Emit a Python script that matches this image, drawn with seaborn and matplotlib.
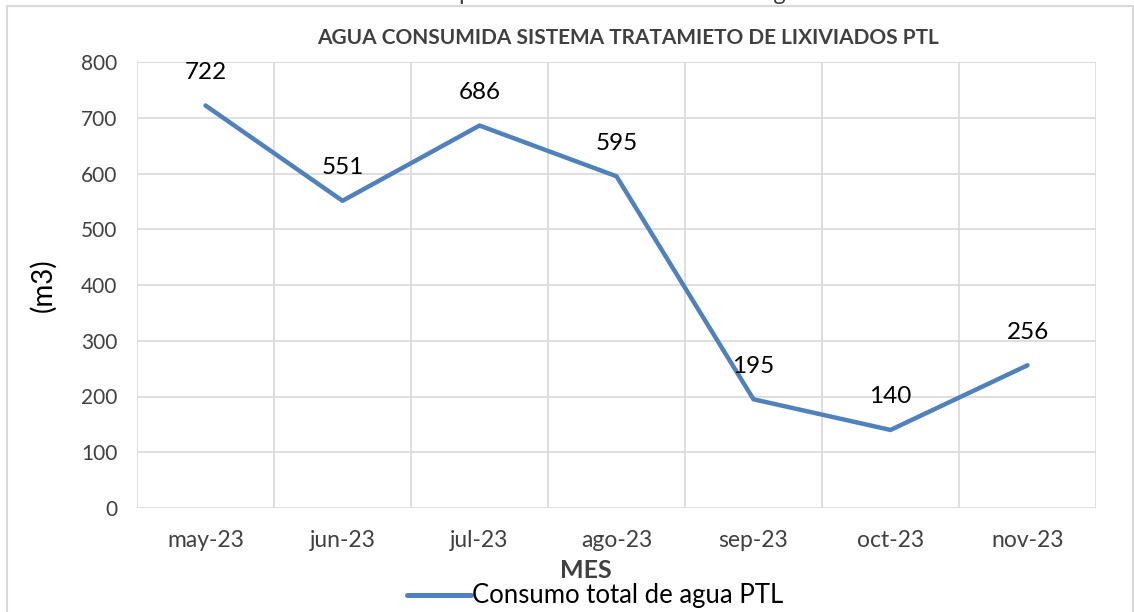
import numpy as np
import pandas as pd
import matplotlib
matplotlib.use("Agg")
import matplotlib.pyplot as plt
import matplotlib.patches as patches
from matplotlib.lines import Line2D
import seaborn as sns

# data
meses = ["may-23", "jun-23", "jul-23", "ago-23", "sep-23", "oct-23", "nov-23"]
consumo = [722, 551, 686, 595, 195, 140, 256]
serie = "Consumo total de agua PTL"

sns.set_theme(style="white")
plt.rcParams['font.family'] = ['Lato', 'DejaVu Sans']

df = pd.DataFrame({"mes": meses, "consumo": consumo})

fig = plt.figure(figsize=(11.34, 6.12), dpi=100)
ax = fig.add_axes([137 / 1134, 1 - 508 / 612, (1096 - 137) / 1134, (508 - 62) / 612])

# outer chart frame
fig.patches.append(patches.Rectangle((7 / 1134, -0.05), (1133 - 7) / 1134, 1.05 - 6 / 612,
                                     transform=fig.transFigure, fill=False,
                                     edgecolor='#d9d9d9', linewidth=1.5, zorder=0))

line_col = '#4f81bd'
sns.lineplot(data=df, x="mes", y="consumo", color=line_col, linewidth=3.2,
             ax=ax, legend=False, sort=False)

# data labels
for i, v in enumerate(consumo):
    ax.annotate(str(v), (i, v), xytext=(0, 33), textcoords='offset pixels',
                ha='center', va='center', fontsize=17.5, color='black')

ax.set_xlim(-0.5, len(meses) - 0.5)
ax.set_ylim(0, 800)
ax.set_yticks(np.arange(0, 801, 100))
ax.set_xticks(np.arange(len(meses)))
ax.set_xticklabels(meses)
ax.set_xticks(np.arange(-0.5, len(meses)), minor=True)
ax.grid(axis='y', which='major', color='#d9d9d9', linewidth=1.2)
ax.grid(axis='x', which='minor', color='#d9d9d9', linewidth=1.2)
ax.grid(axis='x', which='major', visible=False)
ax.tick_params(axis='both', which='both', length=0)
ax.tick_params(axis='y', labelsize=15, labelcolor='#404040', pad=14)
ax.tick_params(axis='x', labelsize=16.5, labelcolor='#404040', pad=16)
for s in ax.spines.values():
    s.set_visible(False)

ax.set_ylabel("(m3)", fontsize=20, color='black', labelpad=18)
ax.set_xlabel("")
fig.text(586 / 1134, 1 - 570 / 612, "MES", ha='center', va='center',
         fontsize=18, fontweight='bold', color='#404040')

fig.text(628 / 1134, 1 - 38 / 612, "AGUA CONSUMIDA SISTEMA TRATAMIETO DE LIXIVIADOS PTL",
         ha='center', va='center', fontsize=15, fontweight='bold', color='#404040')
# caption above the chart, cut off by the image edge
fig.text(570 / 1134, 1 + 6 / 612, "Gráfica Comportamiento del consumo de agua",
         ha='center', va='center', fontsize=17, color='#404040')

h = [Line2D([0], [0], color=line_col, linewidth=3.6)]
fig.legend(h, [serie], loc='center', bbox_to_anchor=(595 / 1134, 1 - 596 / 612),
           frameon=False, fontsize=18.5, handlelength=2.5, handletextpad=0.05,
           borderpad=0, borderaxespad=0, labelcolor='black')

fig.savefig("out.png", dpi=100)
